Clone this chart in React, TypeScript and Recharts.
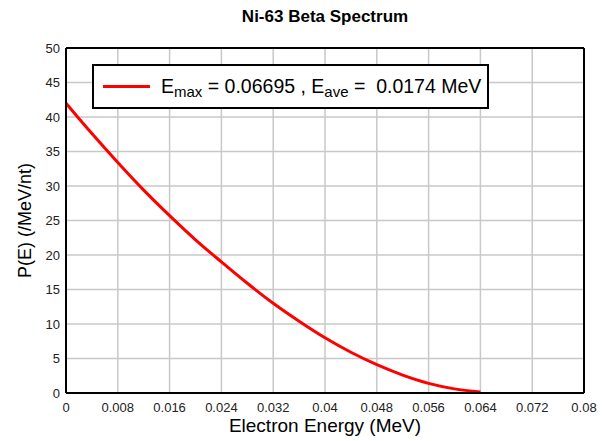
import React from 'react'
import {
  LineChart,
  Line,
  XAxis,
  YAxis,
  CartesianGrid,
  ReferenceLine,
  Label,
} from 'recharts'

// Electron energy (MeV) and spectrum values
const energies = [
  0, 0.004, 0.008, 0.012, 0.016, 0.02, 0.024, 0.028, 0.032, 0.036, 0.04, 0.044,
  0.048, 0.052, 0.056, 0.06, 0.064,
]
const probabilities = [
  42.0, 37.6, 33.4, 29.4, 25.7, 22.2, 19.0, 15.9, 13.0, 10.4, 8.0, 5.9, 4.1, 2.6,
  1.4, 0.6, 0.15,
]
const xTicks = [0, 0.008, 0.016, 0.024, 0.032, 0.04, 0.048, 0.056, 0.064, 0.072, 0.08]
const yTicks = [0, 5, 10, 15, 20, 25, 30, 35, 40, 45, 50]

const FONT = '"Liberation Sans", Arial, sans-serif'

const data = energies.map((e, i) => ({ e, p: probabilities[i] }))

function LegendBox() {
  const sub = { fontSize: 15, verticalAlign: '-4px', lineHeight: 0 }
  return (
    <div
      style={{
        position: 'absolute',
        left: 92,
        top: 64,
        width: 393,
        height: 41,
        border: '2px solid #000',
        background: '#fff',
        display: 'flex',
        alignItems: 'center',
        fontFamily: FONT,
        fontSize: 19.5,
        color: '#000',
        whiteSpace: 'pre',
      }}
    >
      <span
        style={{
          display: 'inline-block',
          width: 47,
          height: 3,
          background: '#ff0000',
          marginLeft: 9,
          marginRight: 11,
        }}
      />
      <span>
        E<sub style={sub}>max</sub>
        {' = 0.06695 , E'}
        <sub style={sub}>ave</sub>
        {' =  0.0174 MeV'}
      </span>
    </div>
  )
}

export default function App() {
  return (
    <div
      style={{
        position: 'absolute',
        left: 0,
        top: 0,
        width: 607,
        height: 441,
        background: '#fff',
        fontFamily: FONT,
      }}
    >
      <div
        style={{
          position: 'absolute',
          left: 66,
          width: 518,
          top: 7,
          textAlign: 'center',
          fontWeight: 'bold',
          fontSize: 17,
          color: '#000',
        }}
      >
        Ni-63 Beta Spectrum
      </div>
      <LineChart
        width={607}
        height={441}
        data={data}
        margin={{ top: 48, right: 23, bottom: 0, left: 0 }}
      >
        <CartesianGrid stroke="#c8c8c8" strokeWidth={1.5} />
        <XAxis
          dataKey="e"
          type="number"
          domain={[0, 0.08]}
          ticks={xTicks}
          interval={0}
          height={48}
          tickLine={false}
          tickSize={4}
          tickMargin={6}
          axisLine={{ stroke: '#000', strokeWidth: 2 }}
          tick={{ fill: '#222', fontSize: 13, fontFamily: FONT }}
        >
          <Label
            value="Electron Energy (MeV)"
            position="insideBottom"
            offset={9}
            style={{ fill: '#000', fontSize: 19, fontFamily: FONT }}
          />
        </XAxis>
        <YAxis
          type="number"
          domain={[0, 50]}
          ticks={yTicks}
          interval={0}
          width={66}
          tickLine={false}
          tickSize={4}
          tickMargin={2}
          axisLine={{ stroke: '#000', strokeWidth: 2 }}
          tick={{ fill: '#222', fontSize: 13, fontFamily: FONT }}
        >
          <Label
            value="P(E) (/MeV/nt)"
            angle={-90}
            position="insideLeft"
            offset={25}
            style={{ fill: '#000', fontSize: 18, fontFamily: FONT, textAnchor: 'middle' }}
          />
        </YAxis>
        <ReferenceLine y={50} stroke="#000" strokeWidth={2} />
        <ReferenceLine x={0.08} stroke="#000" strokeWidth={2} />
        <Line
          type="monotone"
          dataKey="p"
          stroke="#ff0000"
          strokeWidth={3}
          dot={false}
          isAnimationActive={false}
        />
      </LineChart>
      <LegendBox />
    </div>
  )
}
